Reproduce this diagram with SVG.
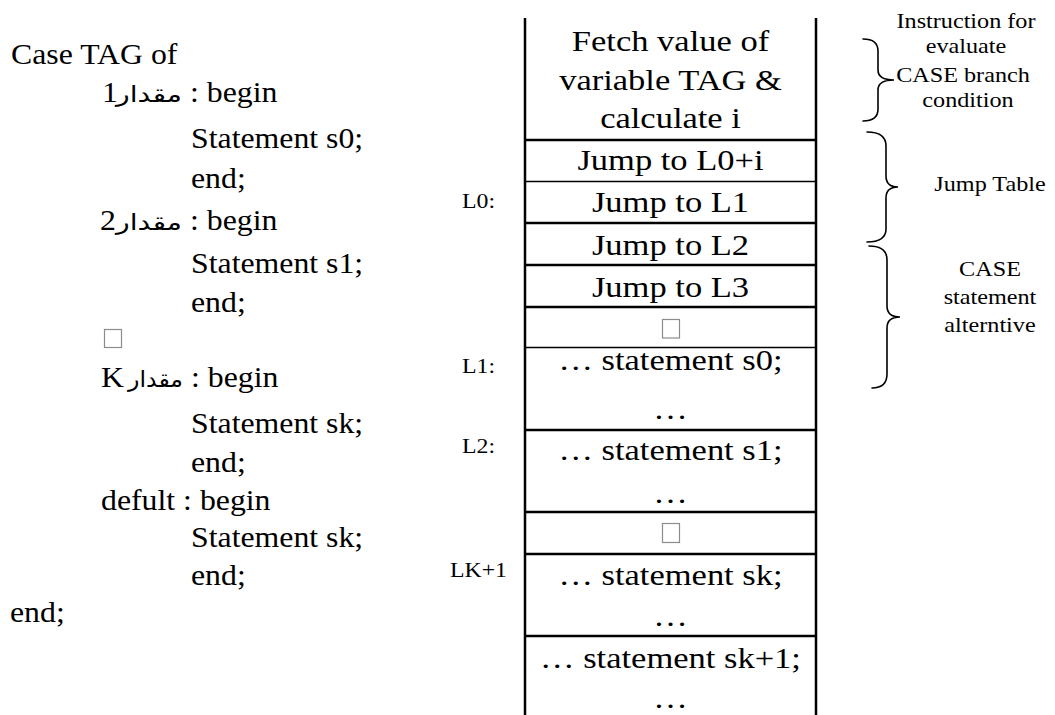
<svg xmlns="http://www.w3.org/2000/svg" width="1055" height="715" viewBox="0 0 1055 715">
  <style>
    text { font-family: "Liberation Serif", "Times New Roman", "DejaVu Serif", serif; fill: #000; }
    .code { font-size: 30px; }
    .ar { font-family: "DejaVu Sans", "Noto Sans", sans-serif; font-size: 22px; }
    .cell { font-size: 29px; text-anchor: middle; }
    .lbl { font-size: 20px; }
    .note { font-size: 20.5px; text-anchor: middle; }
    .edge { stroke: #000; stroke-width: 2.5; fill: none; }
    .rule { stroke: #000; stroke-width: 2.5; }
    .rule.thin { stroke-width: 1.3; }
    .tofu { fill: #fff; stroke: #8c8c8c; stroke-width: 1.2; }
    .brace { fill: none; stroke: #000; stroke-width: 1.6; stroke-linecap: round; }
  </style>

  <!-- Pascal-style CASE source listing -->
  <g id="source">
    <text class="code" transform="translate(11 64) scale(1.06 1)">Case TAG of</text>

    <g id="branch-1">
      <text class="code" transform="translate(102 102) scale(1.06 1)">1</text>
      <text class="ar" x="116" y="102" textLength="66" lengthAdjust="spacingAndGlyphs">مقدار</text>
      <text class="code" transform="translate(190 102) scale(1.06 1)">: begin</text>
    </g>
    <text class="code" transform="translate(191 148) scale(1.06 1)">Statement s0;</text>
    <text class="code" transform="translate(191 188) scale(1.06 1)">end;</text>

    <g id="branch-2">
      <text class="code" transform="translate(100 230) scale(1.06 1)">2</text>
      <text class="ar" x="116" y="230" textLength="66" lengthAdjust="spacingAndGlyphs">مقدار</text>
      <text class="code" transform="translate(190 230) scale(1.06 1)">: begin</text>
    </g>
    <text class="code" transform="translate(191 273) scale(1.06 1)">Statement s1;</text>
    <text class="code" transform="translate(191 312) scale(1.06 1)">end;</text>

    <rect class="tofu" x="104.5" y="329.5" width="17" height="18"/>

    <g id="branch-k">
      <text class="code" transform="translate(101 387) scale(1.06 1)">K</text>
      <text class="ar" x="128" y="387" textLength="55" lengthAdjust="spacingAndGlyphs">مقدار</text>
      <text class="code" transform="translate(191 387) scale(1.06 1)">: begin</text>
    </g>
    <text class="code" transform="translate(191 433) scale(1.06 1)">Statement sk;</text>
    <text class="code" transform="translate(191 472) scale(1.06 1)">end;</text>

    <text class="code" transform="translate(101 510) scale(1.06 1)">defult : begin</text>
    <text class="code" transform="translate(191 547) scale(1.06 1)">Statement sk;</text>
    <text class="code" transform="translate(191 585) scale(1.06 1)">end;</text>
    <text class="code" transform="translate(10 622) scale(1.06 1)">end;</text>
  </g>

  <!-- memory layout column: outer edges and row separators -->
  <g id="column-frame">
    <line class="edge" x1="525" y1="18" x2="525" y2="715"/>
    <line class="edge" x1="816" y1="18" x2="816" y2="715" stroke-width="2"/>
    <line class="rule" x1="525" y1="140" x2="816" y2="140"/>
    <line class="rule thin" x1="525" y1="181.5" x2="816" y2="181.5"/>
    <line class="rule" x1="525" y1="223" x2="816" y2="223"/>
    <line class="rule" x1="525" y1="265" x2="816" y2="265"/>
    <line class="rule" x1="525" y1="307" x2="816" y2="307"/>
    <line class="rule thin" x1="525" y1="347.5" x2="816" y2="347.5"/>
    <line class="rule" x1="525" y1="430" x2="816" y2="430"/>
    <line class="rule" x1="525" y1="512" x2="816" y2="512"/>
    <line class="rule" x1="525" y1="554" x2="816" y2="554"/>
    <line class="rule" x1="525" y1="636" x2="816" y2="636"/>
  </g>

  <g id="cell-fetch">
    <text class="cell" transform="translate(670.5 51) scale(1.19 1)">Fetch value of</text>
    <text class="cell" transform="translate(670.5 90) scale(1.19 1)">variable TAG &amp;</text>
    <text class="cell" transform="translate(670.5 128) scale(1.19 1)">calculate i</text>
  </g>
  <g id="cell-jump-l0i">
    <text class="cell" transform="translate(670.5 170) scale(1.19 1)">Jump to L0+i</text>
  </g>
  <g id="cell-jump-l1">
    <text class="cell" transform="translate(670.5 212) scale(1.19 1)">Jump to L1</text>
  </g>
  <g id="cell-jump-l2">
    <text class="cell" transform="translate(670.5 255) scale(1.19 1)">Jump to L2</text>
  </g>
  <g id="cell-jump-l3">
    <text class="cell" transform="translate(670.5 297) scale(1.19 1)">Jump to L3</text>
  </g>
  <g id="cell-gap-1">
    <rect class="tofu" x="662.5" y="319.5" width="17" height="18.5"/>
  </g>
  <g id="cell-s0">
    <text class="cell" transform="translate(670.5 370) scale(1.19 1)">… statement s0;</text>
    <text class="cell" transform="translate(670.5 419) scale(1.19 1)">…</text>
  </g>
  <g id="cell-s1">
    <text class="cell" transform="translate(670.5 460) scale(1.19 1)">… statement s1;</text>
    <text class="cell" transform="translate(670.5 503) scale(1.19 1)">…</text>
  </g>
  <g id="cell-gap-2">
    <rect class="tofu" x="662.5" y="523.5" width="17" height="19"/>
  </g>
  <g id="cell-sk">
    <text class="cell" transform="translate(670.5 585) scale(1.19 1)">… statement sk;</text>
    <text class="cell" transform="translate(670.5 626) scale(1.19 1)">…</text>
  </g>
  <g id="cell-sk1">
    <text class="cell" transform="translate(670.5 668) scale(1.19 1)">… statement sk+1;</text>
    <text class="cell" transform="translate(670.5 708) scale(1.19 1)">…</text>
  </g>

  <!-- address labels -->
  <g id="label-l0"><text class="lbl" transform="translate(462 208) scale(1.19 1)">L0:</text></g>
  <g id="label-l1"><text class="lbl" transform="translate(462 373) scale(1.19 1)">L1:</text></g>
  <g id="label-l2"><text class="lbl" transform="translate(462 453) scale(1.19 1)">L2:</text></g>
  <g id="label-lk1"><text class="lbl" transform="translate(450 577) scale(1.19 1)">LK+1</text></g>

  <!-- curly braces grouping the column rows -->
  <g id="braces">
    <path class="brace" d="M863,39 Q878,39 878,51 L878,70 Q878,80 894,80 Q878,80 878,90 L878,109 Q878,121 863,121"/>
    <path class="brace" d="M867,132 Q886,132 886,146 L886,176 Q886,187 898,187 Q886,187 886,198 L886,229 Q886,242 867,242"/>
    <path class="brace" d="M869,246 Q887,246 887,260 L887,306 Q887,317 900,317 Q887,317 887,328 L887,374 Q887,388 872,388"/>
  </g>

  <g id="note-condition">
    <text class="note" transform="translate(966 28) scale(1.18 1)">Instruction for</text>
    <text class="note" transform="translate(966 53) scale(1.18 1)">evaluate</text>
    <text class="note" transform="translate(963 82) scale(1.18 1)">CASE branch</text>
    <text class="note" transform="translate(968 107) scale(1.18 1)">condition</text>
  </g>
  <g id="note-jump-table">
    <text class="note" transform="translate(990 191) scale(1.18 1)">Jump Table</text>
  </g>
  <g id="note-alternatives">
    <text class="note" transform="translate(990 276) scale(1.18 1)">CASE</text>
    <text class="note" transform="translate(990 304) scale(1.18 1)">statement</text>
    <text class="note" transform="translate(990 332) scale(1.18 1)">alterntive</text>
  </g>
</svg>
